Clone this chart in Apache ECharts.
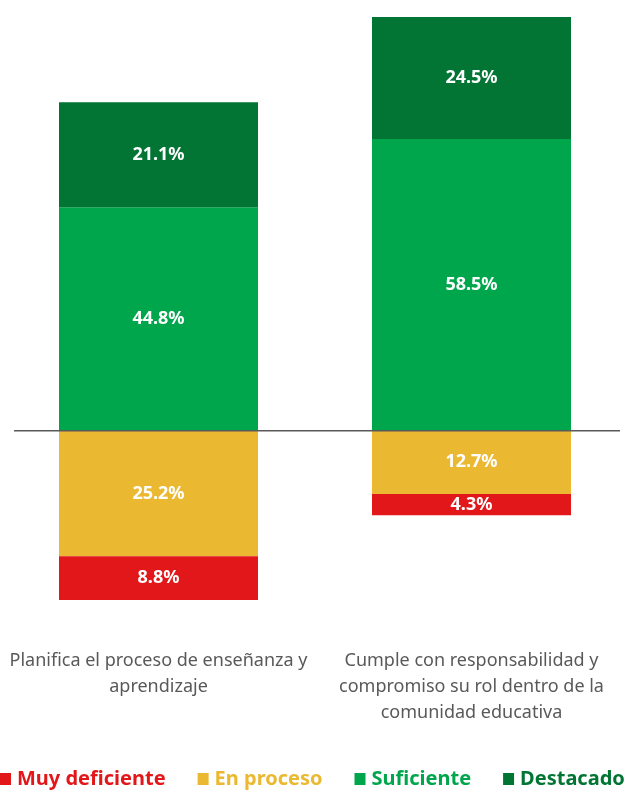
<!DOCTYPE html>
<html>
<head>
<meta charset="utf-8">
<script src="https://cdn.jsdelivr.net/npm/echarts@6/dist/echarts.min.js"></script>
<style>
  html, body { margin: 0; padding: 0; background: #fff; }
  #chart { width: 630px; height: 792px; }
</style>
</head>
<body>
<div id="chart"></div>
<script>
// categorias del eje x
var categorias = [
    'Planifica el proceso de enseñanza y\naprendizaje',
    'Cumple con responsabilidad y\ncompromiso su rol dentro de la\ncomunidad educativa'
]
// porcentajes por nivel (los niveles bajos van hacia abajo)
var muyDeficiente = [8.8, 4.3]
var enProceso = [25.2, 12.7]
var suficiente = [44.8, 58.5]
var destacado = [21.1, 24.5]

var colores = {
    muy: '#E2171A',
    proceso: '#EBB831',
    suficiente: '#00A64C',
    destacado: '#027535'
}

var fuente = 'Noto Sans'

function negar(arr) {
    return arr.map(function (v) { return -v })
}

function serie(nombre, datos, color) {
    return {
        name: nombre,
        type: 'bar',
        stack: 'total',
        barWidth: 199,
        data: datos,
        itemStyle: { color: color },
        label: {
            show: true,
            position: 'inside',
            color: '#fff',
            fontFamily: fuente,
            fontWeight: 'bold',
            fontSize: 18,
            formatter: function (p) {
                return Math.abs(p.value).toFixed(1) + '%'
            }
        }
    }
}

var myChart = echarts.init(document.getElementById('chart'))

var option = {
    animation: false,
    grid: {
        left: 2,
        top: 7,
        width: 626,
        height: 623
    },
    legend: {
        bottom: 3,
        left: 0,
        padding: 0,
        width: 630,
        icon: 'rect',
        itemWidth: 11,
        itemHeight: 12,
        itemGap: 32,
        data: [
            { name: 'Muy deficiente', textStyle: { color: colores.muy } },
            { name: 'En proceso', textStyle: { color: colores.proceso } },
            { name: 'Suficiente', textStyle: { color: colores.suficiente } },
            { name: 'Destacado', textStyle: { color: colores.destacado } }
        ],
        textStyle: {
            fontFamily: fuente,
            fontWeight: 'bold',
            fontSize: 20,
            padding: [0, 0, 0, 1]
        }
    },
    xAxis: {
        type: 'category',
        data: categorias,
        position: 'bottom',
        axisLine: { show: false },
        axisTick: { show: false },
        axisLabel: {
            interval: 0,
            margin: 18,
            color: '#595959',
            fontFamily: fuente,
            fontSize: 18,
            lineHeight: 26,
            align: 'center'
        }
    },
    yAxis: {
        type: 'value',
        min: -40,
        max: 85,
        show: false,
        splitLine: { show: false }
    },
    series: [
        serie('En proceso', negar(enProceso), colores.proceso),
        serie('Muy deficiente', negar(muyDeficiente), colores.muy),
        serie('Suficiente', suficiente, colores.suficiente),
        serie('Destacado', destacado, colores.destacado)
    ]
}

myChart.setOption(option)

// linea del cero, algo mas corta que el area del grafico
var y0 = myChart.convertToPixel({ yAxisIndex: 0 }, 0)
myChart.setOption({
    graphic: [{
        type: 'line',
        shape: { x1: 14, y1: y0, x2: 620, y2: y0 },
        style: { stroke: '#595959', lineWidth: 1.5 },
        z: 10
    }]
})
</script>
</body>
</html>
